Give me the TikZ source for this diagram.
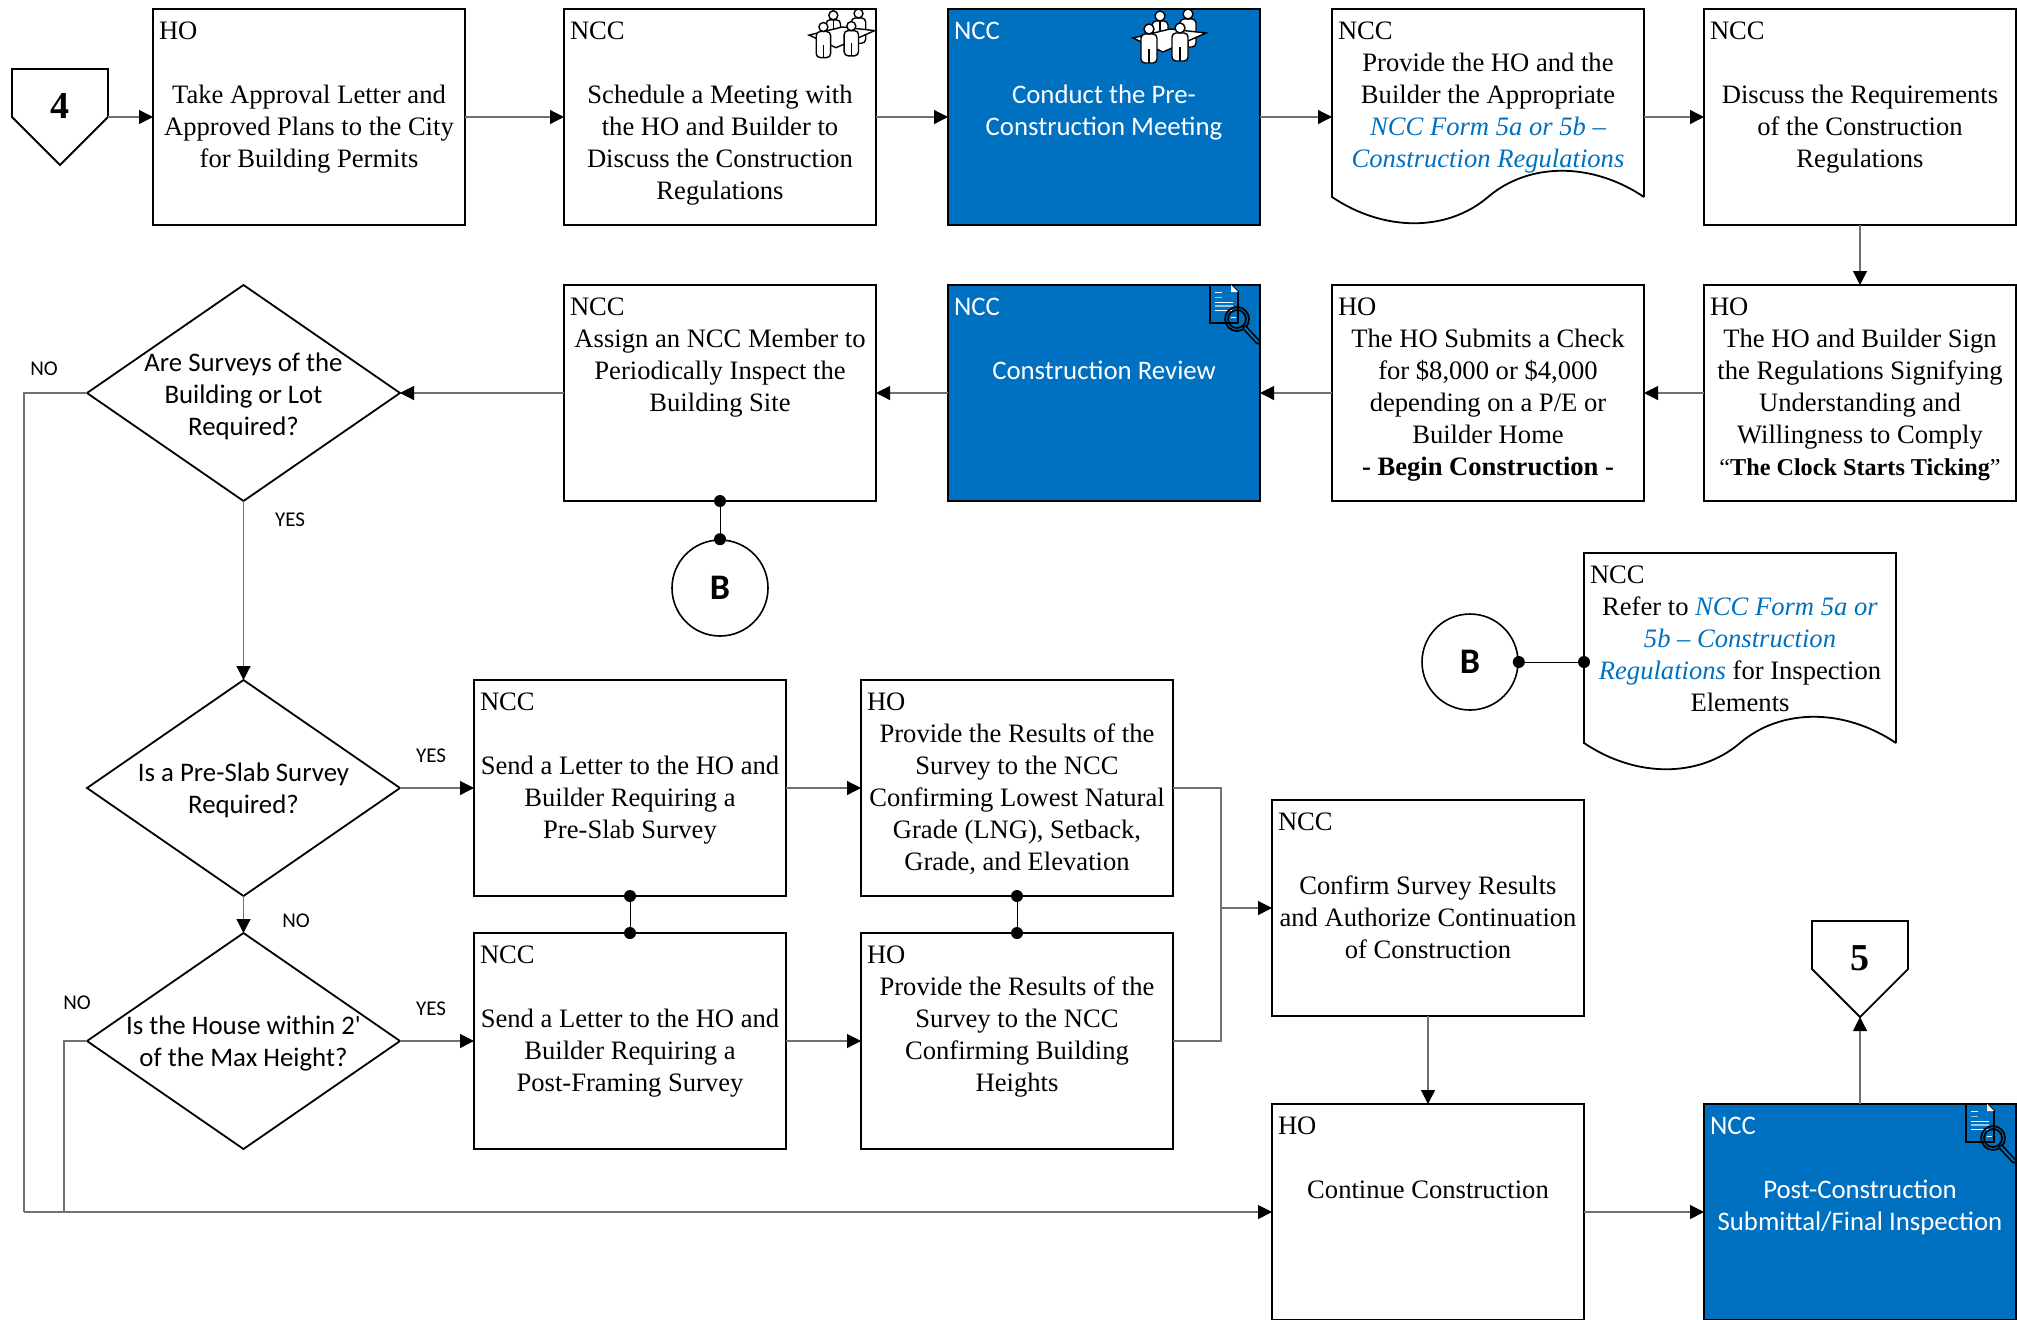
\documentclass[tikz,border=0pt]{standalone}
\usepackage{fontspec}
\setmainfont{Liberation Serif}
\newfontfamily\calibrilike{Carlito}
\usepackage{tikz}
\usetikzlibrary{arrows.meta,shapes.geometric,calc}
\definecolor{nccblue}{HTML}{0070C0}
\definecolor{flowgray}{HTML}{707070}

% Top-aligned owner tag and body of a box
\newcommand{\cardtext}[3][108pt]{\parbox[c][#1][t]{150pt}{\vspace*{3.95pt}{\raggedright\strut #2\par}{\centering #3\par}}}
\newcommand{\formref}[1]{\textcolor{nccblue}{\textit{#1}}}
\newcommand{\wavyoutline}[1]{\draw[line width=0.9pt] (#1.south east) -- (#1.north east) -- (#1.north west) -- (#1.south west)
  .. controls ($(#1.south west)+(52,35)$) and ($(#1.south west)+(115,35)$) .. ($(#1.south west)+(156,0)$)
  .. controls ($(#1.south west)+(197,-35)$) and ($(#1.south west)+(260,-35)$) .. (#1.south east);}
\newcommand{\offpageoutline}[1]{\draw[line width=0.9pt] ($(#1)+(-48,-37)$) -- ($(#1)+(48,-37)$) -- ($(#1)+(48,11)$)
  -- ($(#1)+(0,59)$) -- ($(#1)+(-48,11)$) -- cycle;}
\newcommand{\iconperson}[3]{%
  \draw[iconline,rounded corners=2pt] (#1-8,#2+5) rectangle (#1+8,#3);
  \draw[line width=0.7pt] (#1,#3-14) -- (#1,#3);
  \draw[iconline] (#1,#2) circle (5);}

\tikzset{
  cardbox/.style={rectangle, draw=black, line width=0.9pt, fill=white, anchor=north west, outer sep=0pt,
    inner xsep=3pt, inner ysep=0pt, font=\fontsize{13.3}{16}\selectfont},
  bluebox/.style={cardbox, fill=nccblue, text=white, font=\calibrilike\fontsize{13.4}{16}\selectfont},
  docbox/.style={cardbox, draw=none, fill=none},
  decision/.style={diamond, draw=black, line width=0.9pt, fill=white, minimum width=156.5pt, minimum height=108pt,
    inner sep=0pt, outer sep=0pt, shape aspect=1.45},
  decisiontext/.style={align=center, inner sep=0pt, font=\calibrilike\fontsize{13.4}{16}\selectfont},
  answer/.style={inner sep=0pt, font=\calibrilike\fontsize{10.5}{12}\selectfont},
  offpage/.style={inner sep=0pt, font=\bfseries\fontsize{19}{20}\selectfont},
  connector/.style={circle, draw=black, line width=0.8pt, fill=white, minimum size=48pt, inner sep=0pt,
    font=\calibrilike\bfseries\fontsize{18}{20}\selectfont},
  joindot/.style={circle, fill=black, minimum size=6pt, inner sep=0pt},
  flow/.style={draw=flowgray, line width=0.6pt, -{Triangle[length=7pt,width=7pt,color=black,fill=black]}},
  flowline/.style={draw=flowgray, line width=0.6pt},
  iconline/.style={draw=black, fill=white, line width=0.7pt},
  meeting/.pic={
    \iconperson{27}{7}{26}
    \iconperson{55}{5}{38}
    \draw[iconline] (0,29) -- (37,20) -- (73,24) -- (30,43) -- cycle;
    \iconperson{16}{20}{54}
    \iconperson{47}{19}{52}
  },
  inspect/.pic={
    \draw[line width=0.9pt] (21,0) -- (28,7) -- (28,38) -- (0,38) -- (0,0);
    \fill[white] (21,0) -- (28,7) -- (21,7) -- cycle;
    \draw[white,line width=0.5pt] (5,7) -- (12,7) (5,17) -- (23,17) (5,25) -- (23,25) (21,32) -- (26,32);
    \draw[white!60!nccblue,line width=0.5pt] (5,12) -- (12,12);
    \draw[white!60!nccblue,line width=1.2pt] (5,21) -- (23,21);
    \draw[line width=0.9pt] (27,34) circle (12) (27,34) circle (9);
    \draw[line width=2.6pt,line cap=round] (35,43) -- (48,57);
    \draw[nccblue,line width=1pt,line cap=round] (35,43) -- (48,57);
  }
}

\begin{document}
\begin{tikzpicture}[x=0.5pt,y=-0.5pt]
  \useasboundingbox (0,0) rectangle (2017,1319);

  % First row
  \node[offpage] (offfour) at (60,106) {4};
  \offpageoutline{offfour}
  \coordinate (offfourout) at (108,117);
  \node[cardbox] (permits) at (153,9) {\cardtext{HO}{\mbox{}\\Take Approval Letter and\\Approved Plans to the City\\for Building Permits}};
  \node[cardbox] (schedule) at (564,9) {\cardtext{NCC}{\mbox{}\\Schedule a Meeting with\\the HO and Builder to\\Discuss the Construction\\Regulations}};
  \node[bluebox] (conduct) at (948,9) {\cardtext{NCC}{\mbox{}\\Conduct the Pre-\\Construction Meeting}};
  \node[docbox] (provide) at (1332,9) {\cardtext[94pt]{NCC}{Provide the HO and the\\Builder the Appropriate\\\formref{NCC Form 5a or 5b --}\\\formref{Construction Regulations}}};
  \wavyoutline{provide}
  \node[cardbox] (discuss) at (1704,9) {\cardtext{NCC}{\mbox{}\\Discuss the Requirements\\of the Construction\\Regulations}};
  \pic[scale=0.9] at (809,9) {meeting};
  \pic at (1133,9) {meeting};

  % Second row
  \node[cardbox] (sign) at (1704,285) {\cardtext{HO}{The HO and Builder Sign\\the Regulations Signifying\\Understanding and\\Willingness to Comply\\{\fontsize{12.1}{16}\selectfont ``\textbf{The Clock Starts Ticking}''}}};
  \node[cardbox] (check) at (1332,285) {\cardtext{HO}{The HO Submits a Check\\for \$8,000 or \$4,000\\depending on a P/E or\\Builder Home\\\textbf{- Begin Construction -}}};
  \node[bluebox] (review) at (948,285) {\cardtext{NCC}{\mbox{}\\Construction Review}};
  \node[cardbox] (assign) at (564,285) {\cardtext{NCC}{Assign an NCC Member to\\Periodically Inspect the\\Building Site}};
  \pic at (1210,285) {inspect};
  \node[decision, label={[decisiontext,yshift=-1.8pt]center:Are Surveys of the\\Building or Lot\\Required?}] (surveyq) at (243.5,393) {};
  \node[connector] (bleft) at (720,588) {B};

  % Connector B note
  \node[connector] (bright) at (1470,662) {B};
  \node[docbox] (refer) at (1584,553) {\cardtext[95pt]{NCC}{Refer to \formref{NCC Form 5a or}\\\formref{5b -- Construction}\\\formref{Regulations} for Inspection\\Elements}};
  \wavyoutline{refer}

  % Survey rows
  \node[decision, label={[decisiontext,yshift=-1.2pt]center:Is a Pre-Slab Survey\\Required?}] (slabq) at (243.5,788) {};
  \node[decision, label={[decisiontext,yshift=-1pt]center:Is the House within 2'\\of the Max Height?}] (heightq) at (243.5,1041) {};
  \node[cardbox] (slabletter) at (474,680) {\cardtext{NCC}{\mbox{}\\Send a Letter to the HO and\\Builder Requiring a\\Pre-Slab Survey}};
  \node[cardbox] (slabresult) at (861,680) {\cardtext{HO}{Provide the Results of the\\Survey to the NCC\\Confirming Lowest Natural\\Grade (LNG), Setback,\\Grade, and Elevation}};
  \node[cardbox] (frameletter) at (474,933) {\cardtext{NCC}{\mbox{}\\Send a Letter to the HO and\\Builder Requiring a\\Post-Framing Survey}};
  \node[cardbox] (frameresult) at (861,933) {\cardtext{HO}{Provide the Results of the\\Survey to the NCC\\Confirming Building\\Heights}};
  \node[cardbox] (confirm) at (1272,800) {\cardtext{NCC}{\mbox{}\\Confirm Survey Results\\and Authorize Continuation\\of Construction}};
  \node[cardbox] (continue) at (1272,1104) {\cardtext{HO}{\mbox{}\\Continue Construction}};
  \node[bluebox] (final) at (1704,1104) {\cardtext{NCC}{\mbox{}\\Post-Construction\\Submittal/Final Inspection}};
  \pic at (1966,1104) {inspect};
  \node[offpage] (offfive) at (1860,958) {5};
  \offpageoutline{offfive}
  \coordinate (offfivein) at (1860,1017);

  % Answer labels
  \node[answer] (nosurvey) at (44,369) {NO};
  \node[answer] (yessurvey) at (290,520) {YES};
  \node[answer] (yesslab) at (431,756) {YES};
  \node[answer] (noslab) at (296,921) {NO};
  \node[answer] (noheight) at (77,1003) {NO};
  \node[answer] (yesheight) at (431,1009) {YES};

  % Edges
  \draw[flow] (offfourout) -- (permits.west |- offfourout);
  \draw[flow] (permits.east) -- (schedule.west);
  \draw[flow] (schedule.east) -- (conduct.west);
  \draw[flow] (conduct.east) -- (conduct.east -| provide.west);
  \draw[flow] (provide.east |- discuss.west) -- (discuss.west);
  \draw[flow] (discuss.south) -- (sign.north);
  \draw[flow] (sign.west) -- (check.east);
  \draw[flow] (check.west) -- (review.east);
  \draw[flow] (review.west) -- (assign.east);
  \draw[flow] (assign.west) -- (surveyq.east);
  \draw[flow] (surveyq.south) -- (slabq.north);
  \draw[flow] (slabq.south) -- (heightq.north);
  \draw[flow] (slabq.east) -- (slabletter.west);
  \draw[flow] (heightq.east) -- (frameletter.west);
  \draw[flow] (slabletter.east) -- (slabresult.west);
  \draw[flow] (frameletter.east) -- (frameresult.west);

  % Two results into one arrow
  \coordinate (merge) at (1221,908);
  \draw[flowline] (slabresult.east) -| (merge);
  \draw[flowline] (frameresult.east) -| (merge);
  \draw[flow] (merge) -- (merge -| confirm.west);
  \draw[flow] (confirm.south) -- (continue.north);
  \draw[flow] (continue.east |- final.west) -- (final.west);
  \draw[flow] (final.north -| offfivein) -- (offfivein);

  % Long returns along the left side
  \coordinate (busouter) at (24,1212);
  \coordinate (businner) at (64,1212);
  \draw[flowline] (surveyq.west) -| (busouter);
  \draw[flowline] (heightq.west) -| (businner);
  \draw[flow] (busouter) -- (busouter -| continue.west);

  % Joined with dots
  \draw[line width=0.5pt] (assign.south) node[joindot] (assigndot) {} -- (bleft.north) node[joindot] (bleftdot) {};
  \draw[line width=0.5pt] (bright.east) node[joindot] (brightdot) {} -- (bright.east -| refer.west) node[joindot] (referdot) {};
  \draw[line width=0.5pt] (slabletter.south) node[joindot] (slabdot) {} -- (frameletter.north) node[joindot] (framedot) {};
  \draw[line width=0.5pt] (slabresult.south) node[joindot] (resultdot) {} -- (frameresult.north) node[joindot] (heightdot) {};
\end{tikzpicture}
\end{document}
